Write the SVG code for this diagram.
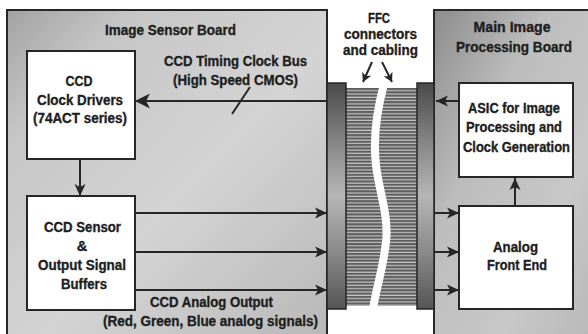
<svg xmlns="http://www.w3.org/2000/svg" width="588" height="334" viewBox="0 0 588 334">
<style>
  .t{font-family:"Liberation Sans",Arial,sans-serif;font-weight:bold;font-size:14.5px;fill:#1e1e1e;stroke:#1e1e1e;stroke-width:0.35;text-anchor:middle}
  .box{fill:#ffffff;stroke:#262626;stroke-width:2}
  .board{stroke:#262626;stroke-width:2}
  .ln{stroke:#262626;stroke-width:2;fill:none}
</style>
<defs>
  <marker id="ah" markerUnits="userSpaceOnUse" markerWidth="13" markerHeight="12" refX="12" refY="6" orient="auto" overflow="visible">
    <path d="M0,0.5 L12,6 L0,11.5 L3,6 Z" fill="#262626"/>
  </marker>
  <marker id="ahL" markerUnits="userSpaceOnUse" markerWidth="16" markerHeight="15" refX="15" refY="7.5" orient="auto" overflow="visible">
    <path d="M0,0 L15,7.5 L0,15 L4,7.5 Z" fill="#262626"/>
  </marker>
  <marker id="ahS" markerUnits="userSpaceOnUse" markerWidth="10" markerHeight="10" refX="9" refY="5" orient="auto" overflow="visible">
    <path d="M0,0 L9,5 L0,10 L2.5,5 Z" fill="#262626"/>
  </marker>
  <linearGradient id="gL" x1="0" y1="0" x2="1" y2="1">
    <stop offset="0" stop-color="#a2a2a2"/>
    <stop offset="0.2" stop-color="#c6c6c6"/>
    <stop offset="0.55" stop-color="#d4d4d4"/>
    <stop offset="1" stop-color="#b8b8b8"/>
  </linearGradient>
  <linearGradient id="gR" x1="0" y1="0" x2="1" y2="1">
    <stop offset="0" stop-color="#8c8c8c"/>
    <stop offset="0.35" stop-color="#bdbdbd"/>
    <stop offset="0.7" stop-color="#c8c8c8"/>
    <stop offset="1" stop-color="#b8b8b8"/>
  </linearGradient>
  <linearGradient id="gC" x1="0" y1="0" x2="0" y2="1">
    <stop offset="0" stop-color="#4a4a4a"/>
    <stop offset="0.3" stop-color="#8e8e8e"/>
    <stop offset="0.5" stop-color="#b5b5b5"/>
    <stop offset="0.75" stop-color="#8a8a8a"/>
    <stop offset="1" stop-color="#555555"/>
  </linearGradient>
  <pattern id="stripes" patternUnits="userSpaceOnUse" x="0" y="88" width="10" height="3.3">
    <rect width="10" height="3.3" fill="#c4c4c4"/>
    <rect width="10" height="2.1" fill="#5e5e5e"/>
  </pattern>
</defs>

<rect x="0" y="0" width="588" height="334" fill="#ffffff"/>

<g id="image-sensor-board">
  <rect class="board" x="7" y="10" width="320" height="330" fill="url(#gL)"/>
  <text class="t" x="170.5" y="35" textLength="131" lengthAdjust="spacingAndGlyphs">Image Sensor Board</text>
</g>

<g id="main-board">
  <rect class="board" x="434" y="10" width="160" height="330" fill="url(#gR)"/>
  <text class="t" x="512" y="32" textLength="77" lengthAdjust="spacingAndGlyphs">Main Image</text>
  <text class="t" x="514" y="52" textLength="116" lengthAdjust="spacingAndGlyphs">Processing Board</text>
</g>

<g id="ffc">
  <rect x="346" y="88" width="72" height="218" fill="url(#stripes)"/>
  <path d="M384,84 C377,110 373,140 376,165 C379,192 389,215 386,242 C383,270 375,292 373,310" fill="none" stroke="#ffffff" stroke-width="8"/>
  <rect x="327" y="83" width="19" height="226" fill="url(#gC)" stroke="#262626" stroke-width="1.5"/>
  <rect x="417" y="83" width="17" height="226" fill="url(#gC)" stroke="#262626" stroke-width="1.5"/>
  <text class="t" x="379" y="23" textLength="22" lengthAdjust="spacingAndGlyphs">FFC</text>
  <text class="t" x="380.5" y="39" textLength="73" lengthAdjust="spacingAndGlyphs">connectors</text>
  <text class="t" x="380.5" y="55" textLength="75" lengthAdjust="spacingAndGlyphs">and cabling</text>
</g>

<g id="ccd-clock-drivers">
  <rect class="box" x="27" y="51" width="108" height="108"/>
  <text class="t" x="79" y="86" textLength="27" lengthAdjust="spacingAndGlyphs">CCD</text>
  <text class="t" x="80" y="105" textLength="86" lengthAdjust="spacingAndGlyphs">Clock Drivers</text>
  <text class="t" x="80" y="123" textLength="94" lengthAdjust="spacingAndGlyphs">(74ACT series)</text>
</g>

<g id="ccd-sensor">
  <rect class="box" x="27" y="196" width="108" height="114"/>
  <text class="t" x="82.5" y="232" textLength="77" lengthAdjust="spacingAndGlyphs">CCD Sensor</text>
  <text class="t" x="82" y="251">&amp;</text>
  <text class="t" x="82" y="270" textLength="88" lengthAdjust="spacingAndGlyphs">Output Signal</text>
  <text class="t" x="84" y="289" textLength="46" lengthAdjust="spacingAndGlyphs">Buffers</text>
</g>

<g id="asic">
  <rect class="box" x="459" y="83" width="114" height="94"/>
  <text class="t" x="514" y="113" textLength="92" lengthAdjust="spacingAndGlyphs">ASIC for Image</text>
  <text class="t" x="514" y="132" textLength="96" lengthAdjust="spacingAndGlyphs">Processing and</text>
  <text class="t" x="516.5" y="152" textLength="107" lengthAdjust="spacingAndGlyphs">Clock Generation</text>
</g>

<g id="afe">
  <rect class="box" x="459" y="206" width="114" height="103"/>
  <text class="t" x="515.5" y="252" textLength="45" lengthAdjust="spacingAndGlyphs">Analog</text>
  <text class="t" x="517" y="270" textLength="60" lengthAdjust="spacingAndGlyphs">Front End</text>
</g>

<g id="connectors">
  <line class="ln" x1="327" y1="101" x2="135" y2="101" marker-end="url(#ahL)"/>
  <line class="ln" x1="232" y1="114" x2="250" y2="87"/>
  <text class="t" x="235.5" y="66" textLength="143" lengthAdjust="spacingAndGlyphs">CCD Timing Clock Bus</text>
  <text class="t" x="235.5" y="85" textLength="125" lengthAdjust="spacingAndGlyphs">(High Speed CMOS)</text>
  <line class="ln" x1="80" y1="160" x2="80" y2="196" marker-end="url(#ah)"/>
  <line class="ln" x1="136" y1="213" x2="327" y2="213" marker-end="url(#ah)"/>
  <line class="ln" x1="136" y1="252" x2="327" y2="252" marker-end="url(#ah)"/>
  <line class="ln" x1="136" y1="290" x2="327" y2="290" marker-end="url(#ah)"/>
  <text class="t" x="211.5" y="307" textLength="123" lengthAdjust="spacingAndGlyphs">CCD Analog Output</text>
  <text class="t" x="210.5" y="326" textLength="215" lengthAdjust="spacingAndGlyphs">(Red, Green, Blue analog signals)</text>
  <line class="ln" x1="459" y1="101" x2="436" y2="101" marker-end="url(#ah)"/>
  <line class="ln" x1="515" y1="206" x2="515" y2="178" marker-end="url(#ah)"/>
  <line class="ln" x1="435" y1="213" x2="459" y2="213" marker-end="url(#ah)"/>
  <line class="ln" x1="435" y1="252" x2="459" y2="252" marker-end="url(#ah)"/>
  <line class="ln" x1="435" y1="290" x2="459" y2="290" marker-end="url(#ah)"/>
  <line class="ln" x1="372" y1="62" x2="363" y2="82" marker-end="url(#ahS)"/>
  <line class="ln" x1="382" y1="62" x2="392" y2="82" marker-end="url(#ahS)"/>
</g>
</svg>
